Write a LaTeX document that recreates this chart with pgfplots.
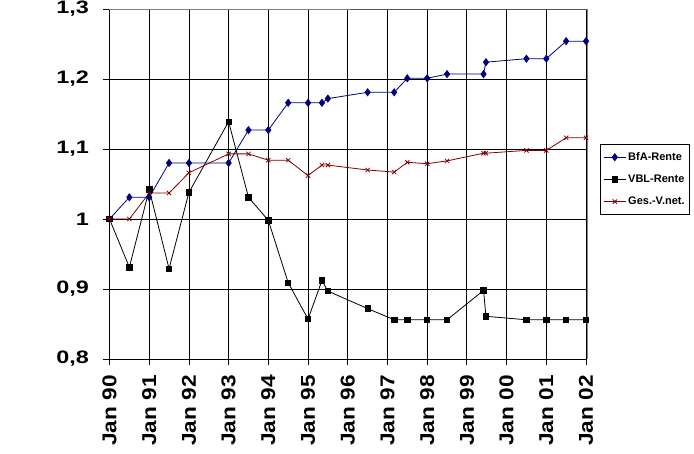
\documentclass[border=0pt]{standalone}
\usepackage{pgfplots}
\pgfplotsset{compat=1.18}
\usepackage{fontspec}
\setmainfont{Liberation Sans}
\definecolor{bfablue}{HTML}{000080}
\definecolor{gesred}{HTML}{800000}
\begin{document}
\begin{tikzpicture}
\begin{axis}[
    scale only axis,
    width=476.5pt, height=350pt,
    xmin=0, xmax=12,
    ymin=0.8, ymax=1.3,
    xtick={0,1,...,12},
    xticklabels={Jan 90,Jan 91,Jan 92,Jan 93,Jan 94,Jan 95,Jan 96,Jan 97,Jan 98,Jan 99,Jan 00,Jan 01,Jan 02},
    ytick={0.8,0.9,1,1.1,1.2,1.3},
    /pgf/number format/.cd, use comma, fixed, precision=1, assume math mode=true,
    /pgfplots/.cd,
    axis x line*=bottom, axis y line*=left,
    axis line style={-, black, line width=0.8pt},
    tick align=outside,
    major tick length=6pt,
    tick style={black, line width=0.8pt},
    grid=major,
    major grid style={black, line width=0.8pt},
    clip=false,
    yticklabel style={font=\bfseries\fontsize{18}{18}\selectfont, xshift=-10pt, xscale=1.3},
    xticklabel style={font=\bfseries\fontsize{20}{20}\selectfont, rotate=90, anchor=east, xscale=1.13, inner xsep=9pt},
    legend cell align=left,
    legend style={at={(1.0294,0.614)}, anchor=north west, draw=black, line width=0.8pt,
        font=\bfseries\fontsize{11}{13}\selectfont, row sep=9pt, inner xsep=3pt, inner ysep=6pt},
    legend image code/.code={\draw[mark repeat=2, mark phase=2] plot coordinates {(0pt,0pt)(11pt,0pt)(22pt,0pt)};},
]
\addplot[color=bfablue, line width=0.8pt, mark=diamond*, mark size=3.5pt, mark options={fill=bfablue}] coordinates {
(0,1.000)(0.5,1.031)(1,1.031)(1.5,1.080)(2,1.080)(3,1.080)(3.5,1.127)(4,1.127)
(4.5,1.166)(5,1.166)(5.35,1.166)(5.5,1.172)(6.5,1.181)(7.17,1.181)(7.5,1.201)
(8,1.201)(8.5,1.207)(9.42,1.207)(9.48,1.224)(10.5,1.229)(11,1.229)(11.5,1.254)(12,1.254)};
\addplot[color=black, line width=0.8pt, mark=square*, mark size=2.7pt] coordinates {
(0,1.000)(0.5,0.931)(1,1.042)(1.5,0.929)(2,1.038)(3,1.139)(3.5,1.031)(4,0.998)
(4.5,0.909)(5,0.857)(5.35,0.912)(5.5,0.897)(6.5,0.872)(7.17,0.856)(7.5,0.856)
(8,0.856)(8.5,0.856)(9.42,0.898)(9.48,0.861)(10.5,0.856)(11,0.856)(11.5,0.856)(12,0.856)};
\addplot[color=gesred, line width=0.8pt, mark=x, mark size=3pt] coordinates {
(0,1.000)(0.5,1.000)(1,1.037)(1.5,1.037)(2,1.066)(3,1.093)(3.5,1.093)(4,1.084)
(4.5,1.084)(5,1.062)(5.35,1.077)(5.5,1.077)(6.5,1.070)(7.17,1.067)(7.5,1.081)
(8,1.079)(8.5,1.083)(9.42,1.094)(9.48,1.094)(10.5,1.098)(11,1.098)(11.5,1.116)(12,1.116)};
\legend{BfA-Rente, VBL-Rente, Ges.-V.net.}
\draw[gray, line width=0.8pt] (rel axis cs:0,1) -- (rel axis cs:1,1) -- ([xshift=1.5pt]rel axis cs:1,1) -- ([xshift=1.5pt]rel axis cs:1,0);
\coordinate (O) at (rel axis cs:0,0);
\end{axis}
\pgfresetboundingbox
\path[use as bounding box] ([shift={(-109.5pt,-95pt)}]O) rectangle ([shift={(584.5pt,359pt)}]O);
\end{tikzpicture}
\end{document}
